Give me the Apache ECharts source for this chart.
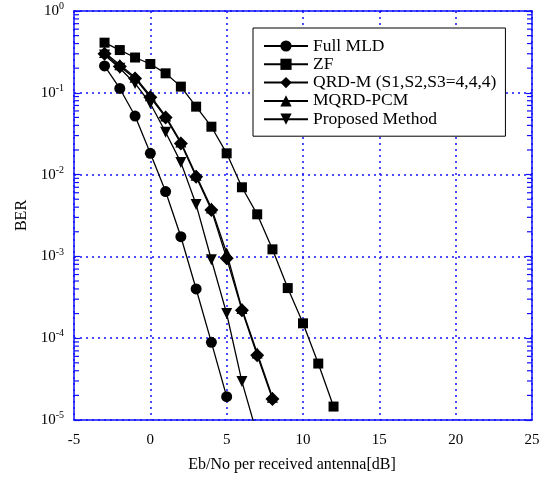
<!DOCTYPE html>
<html>
<head>
<meta charset="utf-8">
<script src="https://cdn.jsdelivr.net/npm/echarts@6/dist/echarts.min.js"></script>
<style>html,body{margin:0;padding:0;background:#fff}#c{width:553px;height:480px}</style>
</head>
<body>
<div id="c"></div>
<script>
var seriesNames = ['Full MLD', 'ZF', 'QRD-M (S1,S2,S3=4,4,4)', 'MQRD-PCM', 'Proposed Method'];
var fullMldX = [-3, -2, -1, 0, 1, 2, 3, 4, 5];
var fullMldY = [0.213, 0.113, 0.052, 0.0182, 0.0062, 0.00174, 0.0004, 0.000089, 0.0000193];
var zfX = [-3, -2, -1, 0, 1, 2, 3, 4, 5, 6, 7, 8, 9, 10, 11, 12];
var zfY = [0.41, 0.333, 0.27, 0.225, 0.173, 0.119, 0.0677, 0.0385, 0.0182, 0.0070, 0.00327, 0.00122, 0.00041, 0.000152, 0.000049, 0.0000146];
var qrdmX = [-3, -2, -1, 0, 1, 2, 3, 4, 5, 6, 7, 8];
var qrdmY = [0.30, 0.21, 0.15, 0.088, 0.05, 0.024, 0.0094, 0.0037, 0.00095, 0.00022, 0.000062, 0.000018];
var mqrdX = [-3, -2, -1, 0, 1, 2, 3, 4, 5, 6, 7, 8];
var mqrdY = [0.31, 0.22, 0.155, 0.092, 0.052, 0.025, 0.0098, 0.0039, 0.0011, 0.00023, 0.000066, 0.000019];
var propX = [-3, -2, -1, 0, 1, 2, 3, 4, 5, 6, 7];
var propY = [0.29, 0.2, 0.13, 0.074, 0.033, 0.0141, 0.0043, 0.00091, 0.0002, 0.0000295, 0.0000066];
var xTicks = [-5, 0, 5, 10, 15, 20, 25];
var yTicks = [1e-5, 1e-4, 1e-3, 1e-2, 1e-1, 1];

function pairs(xs, ys) { return xs.map(function (x, i) { return [x, ys[i]]; }); }

var minorVals = [];
for (var e = -5; e < 0; e++) {
  for (var m = 2; m <= 9; m++) minorVals.push(m * Math.pow(10, e));
}

var BLUE = '#1010ff';
var FONT = '"Liberation Serif", "DejaVu Serif", serif';

var chart = echarts.init(document.getElementById('c'), null, {renderer: 'canvas'});

function lineSeries(name, data, symbol, size, rotate) {
  return {
    name: name, type: 'line', data: data, symbol: symbol, symbolSize: size,
    symbolRotate: rotate || 0,
    lineStyle: {color: '#000', width: 1.3}, itemStyle: {color: '#000'},
    showAllSymbol: true, clip: true, z: 5, animation: false
  };
}

var option = {
  animation: false,
  backgroundColor: '#fff',
  grid: {left: 74, right: 21, top: 11, bottom: 60, containLabel: false},
  legend: {
    orient: 'vertical', left: 253, top: 28,
    data: seriesNames,
    backgroundColor: '#fff',
    borderColor: '#000', borderWidth: 1,
    padding: [9, 9, 8, 10],
    itemWidth: 44, itemHeight: 14, itemGap: 0.3,
    textStyle: {fontFamily: FONT, fontSize: 17.5, color: '#000'},
    z: 10
  },
  xAxis: [{
    type: 'value', min: xTicks[0], max: xTicks[xTicks.length - 1], interval: 5,
    position: 'bottom',
    name: 'Eb/No per received antenna[dB]', nameLocation: 'middle', nameGap: 37,
    nameTextStyle: {fontFamily: FONT, fontSize: 16, color: '#000', padding: [0, 22, 0, 0]},
    axisLine: {onZero: false, lineStyle: {color: BLUE, width: 1.5}},
    axisTick: {show: false},
    axisLabel: {fontFamily: FONT, fontSize: 15, color: '#000', margin: 13},
    splitLine: {show: true, lineStyle: {color: BLUE, type: [2, 4], width: 1.5}}
  }, {
    type: 'value', min: xTicks[0], max: xTicks[xTicks.length - 1], interval: 5,
    position: 'top',
    axisLine: {onZero: false, lineStyle: {color: BLUE, width: 1.5}},
    axisTick: {show: false}, axisLabel: {show: false}, splitLine: {show: false}
  }],
  yAxis: [{
    type: 'log', logBase: 10, min: yTicks[0], max: yTicks[yTicks.length - 1],
    position: 'left',
    name: 'BER', nameLocation: 'middle', nameGap: 42,
    nameTextStyle: {fontFamily: FONT, fontSize: 16, color: '#000'},
    axisLine: {onZero: false, lineStyle: {color: BLUE, width: 1.5}},
    axisTick: {show: true, inside: true, length: 6, lineStyle: {color: BLUE, width: 1.2}},
    axisLabel: {
      margin: 10,
      formatter: function (v) {
        var ex = Math.round(Math.log10(v));
        return '{b|10}{s|' + ex + '}';
      },
      rich: {
        b: {fontFamily: FONT, fontSize: 15, color: '#000'},
        s: {fontFamily: FONT, fontSize: 10, color: '#000', padding: [0, 0, 9, 0]}
      }
    },
    splitLine: {show: true, lineStyle: {color: BLUE, type: [2, 4], width: 1.5}}
  }, {
    type: 'log', logBase: 10, min: yTicks[0], max: yTicks[yTicks.length - 1],
    position: 'right',
    axisLine: {onZero: false, lineStyle: {color: BLUE, width: 1.5}},
    axisTick: {show: true, inside: true, length: 6, lineStyle: {color: BLUE, width: 1.2}},
    axisLabel: {show: false}, splitLine: {show: false}
  }],
  series: [
    {
      type: 'custom', name: 'minorTicks', silent: true, z: 3,
      data: minorVals.map(function (v) { return [v]; }),
      renderItem: function (params, api) {
        var v = api.value(0);
        var pl = api.coord([xTicks[0], v]);
        var pr = api.coord([xTicks[xTicks.length - 1], v]);
        return {
          type: 'group',
          children: [
            {type: 'line', shape: {x1: pl[0], y1: pl[1], x2: pl[0] + 5, y2: pl[1]}, style: {stroke: BLUE, lineWidth: 1.2}},
            {type: 'line', shape: {x1: pr[0], y1: pr[1], x2: pr[0] - 5, y2: pr[1]}, style: {stroke: BLUE, lineWidth: 1.2}}
          ]
        };
      },
      encode: {y: 0},
      clip: false
    },
    lineSeries(seriesNames[0], pairs(fullMldX, fullMldY), 'circle', 11),
    lineSeries(seriesNames[1], pairs(zfX, zfY), 'rect', 10),
    lineSeries(seriesNames[2], pairs(qrdmX, qrdmY), 'diamond', 14),
    lineSeries(seriesNames[3], pairs(mqrdX, mqrdY), 'triangle', 11),
    lineSeries(seriesNames[4], pairs(propX, propY), 'triangle', 11, 180)
  ]
};
chart.setOption(option);
</script>
</body>
</html>
